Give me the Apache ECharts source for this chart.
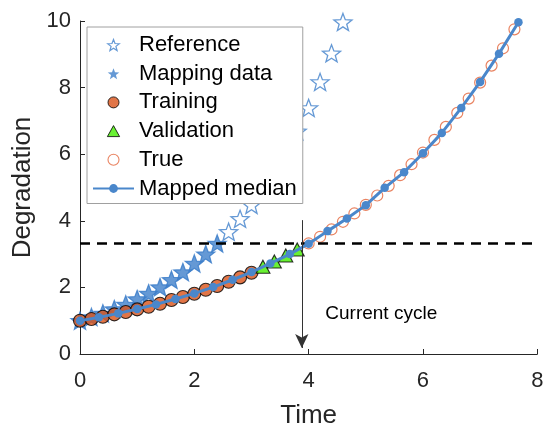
<!DOCTYPE html>
<html>
<head>
<meta charset="utf-8">
<script src="https://cdn.jsdelivr.net/npm/echarts/dist/echarts.min.js"></script>
<style>
  html, body { margin: 0; padding: 0; background: #fff; }
  #chart { width: 543px; height: 427px; }
</style>
</head>
<body>
<div id="chart"></div>
<script>
// Reference degradation trajectory (all cycles) and the part used for mapping
const refTime = [0, 0.2, 0.4, 0.6, 0.8, 1.0, 1.2, 1.4, 1.6, 1.8, 2.0, 2.2, 2.4, 2.6, 2.8, 3.0, 3.2, 3.4, 3.6, 3.8, 4.0, 4.2, 4.4, 4.6];
const refValue = [1.00, 1.11, 1.22, 1.35, 1.49, 1.65, 1.82, 2.01, 2.23, 2.46, 2.72, 3.00, 3.32, 3.67, 4.06, 4.48, 4.95, 5.47, 6.05, 6.69, 7.39, 8.17, 9.03, 9.97];
const mapTime = [0, 0.2, 0.4, 0.6, 0.8, 1.0, 1.2, 1.4, 1.6, 1.8, 2.0, 2.2, 2.4];
const mapValue = [1.00, 1.11, 1.22, 1.35, 1.49, 1.65, 1.82, 2.01, 2.23, 2.46, 2.72, 3.00, 3.32];

// Observed unit: training and validation measurements
const trainTime = [0, 0.2, 0.4, 0.6, 0.8, 1.0, 1.2, 1.4, 1.6, 1.8, 2.0, 2.2, 2.4, 2.6, 2.8, 3.0];
const trainValue = [1.00, 1.05, 1.12, 1.19, 1.26, 1.34, 1.42, 1.51, 1.62, 1.71, 1.81, 1.93, 2.04, 2.17, 2.30, 2.44];
const valTime = [3.2, 3.4, 3.6, 3.8];
const valValue = [2.62, 2.78, 2.96, 3.14];

// Future true degradation of the observed unit
const trueTime = [4.0, 4.2, 4.4, 4.6, 4.8, 5.0, 5.2, 5.4, 5.6, 5.8, 6.0, 6.2, 6.4, 6.6, 6.8, 7.0, 7.2, 7.4, 7.6];
const trueValue = [3.32, 3.52, 3.74, 3.97, 4.22, 4.48, 4.76, 5.05, 5.37, 5.70, 6.05, 6.43, 6.82, 7.24, 7.67, 8.15, 8.66, 9.18, 9.75];

// Median of the mapped reference trajectories
const medTime = [0, 0.33, 0.67, 1.0, 1.33, 1.67, 2.0, 2.33, 2.67, 3.0, 3.33, 3.67, 4.0, 4.33, 4.67, 5.0, 5.33, 5.67, 6.0, 6.33, 6.67, 7.0, 7.33, 7.67];
const medValue = [1.00, 1.10, 1.22, 1.35, 1.49, 1.65, 1.82, 2.01, 2.23, 2.46, 2.72, 3.00, 3.31, 3.69, 4.07, 4.47, 4.99, 5.46, 6.03, 6.64, 7.39, 8.17, 9.02, 9.96];

// Degradation threshold and current cycle marker
const threshold = 3.32;
const thresholdSpan = [0, 8];
const currentCycle = 3.88;
const arrowSpan = [4.02, 0.18];
const cycleLabel = 'Current cycle';
const cycleLabelAt = [5.27, 1.22];

const xTicks = { min: 0, max: 8, interval: 2 };
const yTicks = { min: 0, max: 10, interval: 2 };

const zip = (xs, ys) => xs.map((x, i) => [x, ys[i]]);

const FONT = '"Liberation Sans", Arial, Helvetica, sans-serif';
const INK = '#262626';
const STAR = 'path://M100,0 L124.69,66.02 L195.1,69.1 L139.94,112.98 L158.8,180.9 L100,142 L41.2,180.9 L60.06,112.98 L4.9,69.1 L75.31,66.02 Z';
const TRI = 'path://M50,0 L100,90 L0,90 Z';
const BLUE_STAR = '#3f7fca';
const BLUE_LINE = '#4a87cb';
const ORANGE = '#d95319';
const GREEN = '#44ee00';
const TRUE_EDGE = '#e4643a';

// Legend entries with their own marker glyphs
const legendEntries = [
  { name: 'Reference', icon: STAR, itemStyle: { color: '#fff', borderColor: BLUE_STAR, borderWidth: 1.2 } },
  { name: 'Mapping data', icon: STAR, itemStyle: { color: BLUE_STAR, borderWidth: 0 } },
  { name: 'Training', icon: 'circle', itemStyle: { color: ORANGE, borderColor: '#000', borderWidth: 1 } },
  { name: 'Validation', icon: TRI, itemStyle: { color: GREEN, borderColor: '#000', borderWidth: 1 } },
  { name: 'True', icon: 'circle', itemStyle: { color: '#fff', borderColor: TRUE_EDGE, borderWidth: 1.1 } },
  { name: 'Mapped median' }
];

const chart = echarts.init(document.getElementById('chart'), null, { renderer: 'canvas' });

const axisCommon = {
  type: 'value',
  nameLocation: 'middle',
  nameTextStyle: { fontSize: 26, color: INK, fontFamily: FONT },
  axisLine: { show: true, onZero: false, lineStyle: { color: INK, width: 1 } },
  axisTick: { show: true, inside: true, length: 5, lineStyle: { color: INK, width: 1 } },
  splitLine: { show: false },
  minorTick: { show: false }
};

chart.setOption({
  animation: false,
  backgroundColor: '#fff',
  textStyle: { fontFamily: FONT },
  grid: { left: 80, right: 5.7, top: 21, bottom: 73, containLabel: false, outerBoundsMode: 'none' },
  xAxis: Object.assign({}, axisCommon, {
    min: xTicks.min, max: xTicks.max, interval: xTicks.interval,
    name: 'Time', nameGap: 49,
    axisLabel: { fontSize: 22, color: INK, margin: 16, fontFamily: FONT }
  }),
  yAxis: Object.assign({}, axisCommon, {
    min: yTicks.min, max: yTicks.max, interval: yTicks.interval,
    name: 'Degradation', nameGap: 42,
    axisLabel: { fontSize: 22, color: INK, margin: 9, fontFamily: FONT }
  }),
  legend: {
    data: legendEntries,
    orient: 'vertical',
    left: 87, top: 27,
    padding: [7, 6, 4, 5],
    itemGap: 6.7,
    itemWidth: 41,
    itemHeight: 11,
    symbolKeepAspect: true,
    backgroundColor: '#fff',
    borderColor: '#a0a0a0',
    borderWidth: 1,
    borderRadius: 0,
    selectedMode: false,
    z: 20,
    textStyle: { fontSize: 22, lineHeight: 22, color: '#000', fontFamily: FONT }
  },
  series: [
    {
      name: 'Reference', type: 'scatter',
      data: zip(refTime, refValue),
      symbol: STAR, symbolKeepAspect: true, symbolSize: 18,
      itemStyle: { color: 'rgba(255,255,255,0)', borderColor: BLUE_STAR, borderWidth: 1.3 }
    },
    {
      name: 'Mapping data', type: 'scatter',
      data: zip(mapTime, mapValue),
      symbol: STAR, symbolKeepAspect: true, symbolSize: 19,
      itemStyle: { color: BLUE_STAR }
    },
    {
      name: 'Threshold', type: 'line',
      data: thresholdSpan.map(x => [x, threshold]),
      symbol: 'none', silent: true,
      lineStyle: { color: '#000', width: 2.6, type: [10, 7] },
      markLine: {
        silent: true, animation: false,
        symbol: ['none', 'arrow'], symbolSize: [10, 14],
        label: { show: false },
        lineStyle: { color: '#333', width: 1, type: 'solid' },
        data: [[{ coord: [currentCycle, arrowSpan[0]] }, { coord: [currentCycle, arrowSpan[1]] }]]
      },
      markPoint: {
        silent: true, animation: false,
        symbol: 'circle', symbolSize: 1,
        itemStyle: { color: 'rgba(0,0,0,0)' },
        label: { show: true, position: 'inside', formatter: cycleLabel, fontSize: 19, color: '#000', fontFamily: FONT },
        data: [{ coord: cycleLabelAt }]
      }
    },
    {
      name: 'Mapped median', type: 'line',
      data: zip(medTime, medValue),
      symbol: 'circle', symbolSize: 8.5, showSymbol: true,
      lineStyle: { color: BLUE_LINE, width: 3 },
      itemStyle: { color: BLUE_LINE }
    },
    {
      name: 'True', type: 'scatter',
      data: zip(trueTime, trueValue),
      symbol: 'circle', symbolSize: 11,
      itemStyle: { color: 'rgba(255,255,255,0)', borderColor: TRUE_EDGE, borderWidth: 1.2 }
    },
    {
      name: 'Training', type: 'scatter',
      data: zip(trainTime, trainValue),
      symbol: 'circle', symbolSize: 13,
      itemStyle: { color: ORANGE, borderColor: '#000', borderWidth: 1.1 }
    },
    {
      name: 'Validation', type: 'scatter',
      data: zip(valTime, valValue),
      symbol: 'triangle', symbolSize: [14, 13],
      itemStyle: { color: GREEN, borderColor: '#000', borderWidth: 1.1 }
    }
  ]
});
</script>
</body>
</html>
